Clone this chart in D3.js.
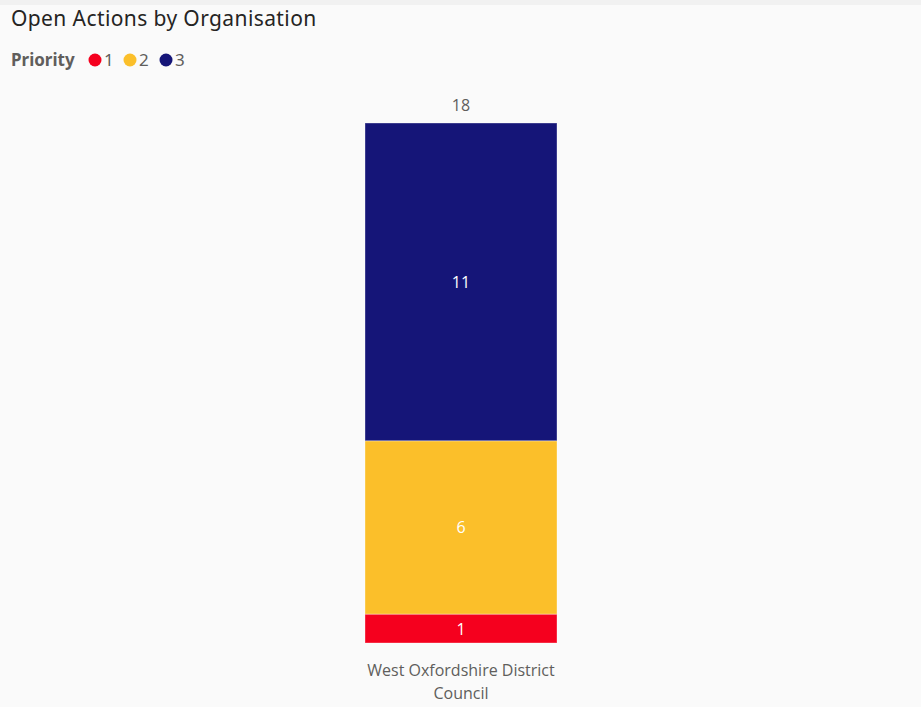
<!DOCTYPE html>
<html>
<head>
<meta charset="utf-8">
<script src="https://cdn.jsdelivr.net/npm/d3@7"></script>
<style>
  body { margin: 0; background: #fafafa; }
  svg { display: block; }
</style>
</head>
<body>
<div id="chart"></div>
<script>
(function () {
  const organisations = ["West Oxfordshire District Council"];
  const priorities = ["1", "2", "3"];
  const priority1 = [1];
  const priority2 = [6];
  const priority3 = [11];
  const colours = ["#f5001e", "#fbbf2a", "#151578"];

  const width = 921, height = 707;
  const margin = {top: 123, bottom: 64, left: 365, right: 364};

  const svg = d3.select("#chart").append("svg")
    .attr("width", width)
    .attr("height", height);

  svg.append("rect")
    .attr("width", width).attr("height", height)
    .attr("fill", "#fafafa");
  svg.append("rect")
    .attr("width", width).attr("height", 5)
    .attr("fill", "#f1f1f1");

  svg.append("text")
    .attr("x", 11).attr("y", 26)
    .attr("font-family", "'Noto Sans', sans-serif")
    .attr("font-size", 21)
    .attr("letter-spacing", 0.4)
    .attr("fill", "#252423")
    .text("Open Actions by Organisation");

  // legend
  const legend = svg.append("g")
    .attr("font-family", "'Noto Sans', sans-serif")
    .attr("font-size", 17);
  legend.append("text")
    .attr("x", 11).attr("y", 66)
    .attr("font-weight", "bold")
    .attr("fill", "#605e5c")
    .text("Priority");
  const lx = [95, 130, 166];
  priorities.forEach(function (p, i) {
    legend.append("circle")
      .attr("cx", lx[i]).attr("cy", 60).attr("r", 6.5)
      .attr("fill", colours[i]);
    legend.append("text")
      .attr("x", lx[i] + 9).attr("y", 66)
      .attr("fill", "#605e5c")
      .text(p);
  });

  const rows = organisations.map(function (o, i) {
    return {org: o, "1": priority1[i], "2": priority2[i], "3": priority3[i]};
  });
  const stack = d3.stack().keys(priorities)(rows);

  const x = d3.scaleBand()
    .domain(organisations)
    .range([margin.left, width - margin.right])
    .padding(0);

  const y = d3.scaleLinear()
    .domain([0, 18])
    .range([height - margin.bottom, margin.top]);

  const layers = svg.append("g").selectAll("g")
    .data(stack).join("g")
    .attr("fill", function (d, i) { return colours[i]; });

  layers.selectAll("rect")
    .data(function (d) { return d; })
    .join("rect")
    .attr("x", function (d) { return x(d.data.org); })
    .attr("width", x.bandwidth())
    .attr("y", function (d) { return y(d[1]); })
    .attr("height", function (d) { return y(d[0]) - y(d[1]); })
    .attr("stroke", "#ffffff")
    .attr("stroke-opacity", 0.35)
    .attr("stroke-width", 1);

  layers.selectAll("text")
    .data(function (d) { return d; })
    .join("text")
    .attr("x", function (d) { return x(d.data.org) + x.bandwidth() / 2; })
    .attr("y", function (d) { return (y(d[0]) + y(d[1])) / 2 + 6; })
    .attr("text-anchor", "middle")
    .attr("font-family", "'Open Sans', sans-serif")
    .attr("font-size", 16)
    .attr("fill", "#ffffff")
    .text(function (d) { return d[1] - d[0]; });

  // totals
  svg.append("g").selectAll("text")
    .data(rows).join("text")
    .attr("x", function (d) { return x(d.org) + x.bandwidth() / 2; })
    .attr("y", function (d) { return y(d["1"] + d["2"] + d["3"]) - 12; })
    .attr("text-anchor", "middle")
    .attr("font-family", "'Open Sans', sans-serif")
    .attr("font-size", 16)
    .attr("fill", "#605e5c")
    .text(function (d) { return d["1"] + d["2"] + d["3"]; });

  // category labels, wrapped onto two lines
  const labels = svg.append("g").selectAll("text")
    .data(organisations).join("text")
    .attr("text-anchor", "middle")
    .attr("font-family", "'Open Sans', sans-serif")
    .attr("font-size", 16)
    .attr("fill", "#605e5c");
  labels.each(function (d) {
    const t = d3.select(this);
    const words = d.split(" ");
    const lines = [words.slice(0, 3).join(" "), words.slice(3).join(" ")];
    lines.forEach(function (l, i) {
      t.append("tspan")
        .attr("x", x(d) + x.bandwidth() / 2)
        .attr("y", height - margin.bottom + 33 + i * 23)
        .text(l);
    });
  });
})();
</script>
</body>
</html>
